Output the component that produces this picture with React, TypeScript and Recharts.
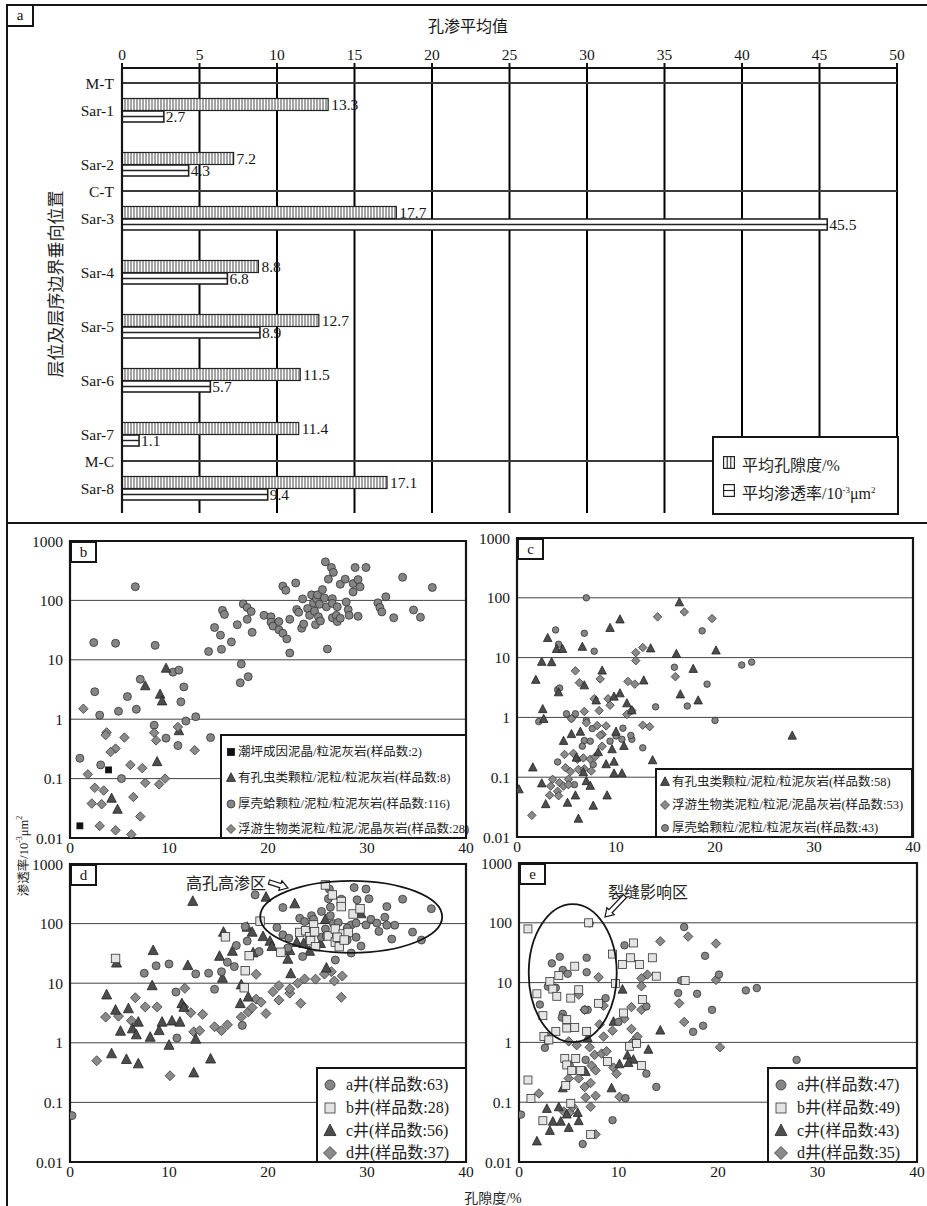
import React from "react";
import {
  Bar,
  BarChart,
  CartesianGrid,
  LabelList,
  ReferenceArea,
  ReferenceDot,
  ReferenceLine,
  Scatter,
  ScatterChart,
  XAxis,
  YAxis,
} from "recharts";

// ---------- panel a: mean porosity / permeability per layer ----------
const layers = ["Sar-1", "Sar-2", "Sar-3", "Sar-4", "Sar-5", "Sar-6", "Sar-7", "Sar-8"];
const meanPorosity = [13.3, 7.2, 17.7, 8.8, 12.7, 11.5, 11.4, 17.1];
const meanPermeability = [2.7, 4.3, 45.5, 6.8, 8.9, 5.7, 1.1, 9.4];
const boundaries = ["M-T", "C-T", "M-C"];
// vertical order of rows ("" = empty spacing row)
const rowOrder = ["M-T", "Sar-1", "", "Sar-2", "C-T", "Sar-3", "", "Sar-4", "", "Sar-5", "", "Sar-6", "", "Sar-7", "M-C", "Sar-8"];
const topTicks = [0, 5, 10, 15, 20, 25, 30, 35, 40, 45, 50];

// ---------- panel b ----------
const bTidal = [[3.9, 0.14], [1.0, 0.016]];
const bForam = [[9.7, 7.1], [7.6, 3.6], [9.1, 2.6], [9.3, 2.0], [11.0, 0.63], [8.8, 0.19], [4.2, 0.046], [4.8, 0.03]];
const bRudist = [
  [6.6, 170], [2.4, 19.5], [4.6, 19], [8.6, 17.5], [14.0, 13.8], [14.6, 35], [15.2, 26], [15.3, 15], [15.4, 68], [15.6, 58],
  [16.3, 20], [16.9, 39], [17.2, 4.1], [17.3, 8.5], [17.5, 87], [17.9, 76], [18.0, 5.2], [17.9, 48], [18.3, 65], [18.4, 29],
  [19.6, 56], [20.3, 53], [20.3, 43], [20.5, 37], [21.1, 44], [21.1, 32], [21.5, 28], [21.5, 174], [21.8, 148], [21.9, 22.5],
  [22.2, 48], [22.2, 13], [22.8, 197], [22.9, 70], [23.1, 63], [23.4, 34], [23.5, 106], [23.6, 40], [24.0, 73], [24.2, 56],
  [24.4, 124], [24.6, 91], [24.7, 66], [24.8, 39], [24.9, 107], [25.0, 124], [25.1, 53], [25.2, 86], [25.3, 45], [25.5, 152],
  [25.7, 110], [25.8, 445], [25.9, 78], [26.0, 15.2], [26.1, 228], [26.4, 358], [26.6, 296], [26.5, 107], [26.5, 89], [26.5, 51],
  [26.9, 56], [27.0, 44], [27.0, 78], [27.3, 187], [27.3, 50], [27.8, 228], [27.9, 94], [28.1, 70], [28.2, 56], [28.6, 192],
  [28.6, 139], [28.8, 358], [29.1, 224], [29.3, 169], [29.1, 54], [29.9, 358], [31.1, 91], [31.3, 76], [31.5, 64], [31.9, 115],
  [32.7, 51], [33.6, 245], [34.7, 69], [35.4, 52], [36.6, 165],
  [2.5, 2.9], [3.0, 1.17], [4.9, 1.36], [5.8, 2.4], [6.7, 1.47], [7.1, 4.7], [10.4, 6.2], [11.0, 6.7], [11.2, 1.96], [11.5, 3.5],
  [11.7, 0.93], [12.7, 1.1], [8.5, 0.79], [9.7, 0.48], [10.9, 0.36], [14.2, 0.49], [1.0, 0.22], [3.1, 0.17], [5.2, 0.1],
];
const bPlankton = [
  [1.35, 1.5], [3.7, 0.6], [3.6, 0.54], [5.5, 0.49], [4.6, 0.32], [4.1, 0.28], [6.1, 0.17], [7.3, 0.15], [1.8, 0.118], [8.5, 0.59],
  [8.7, 0.44], [10.9, 0.74], [12.6, 0.3], [9.6, 0.1], [9.0, 0.08], [7.6, 0.085], [2.5, 0.07], [3.4, 0.063], [6.4, 0.049], [2.2, 0.038],
  [3.2, 0.037], [7.1, 0.023], [3.0, 0.016], [4.6, 0.0135], [6.2, 0.0115],
];

// ---------- panel c ----------
const cForam = [
  [3.1, 21], [1.9, 4.2], [2.5, 8.4], [3.5, 8.3], [4.0, 13.8], [4.6, 13.8], [4.2, 2.6], [2.6, 1.36], [2.7, 0.93], [6.6, 15],
  [6.8, 3.4], [9.4, 31], [10.4, 43], [8.6, 6], [8.0, 1.9], [9.8, 2.2], [10.4, 2.5], [12.8, 4.1], [13.5, 14.1], [11.1, 1.7],
  [11.6, 1.3], [16.4, 83], [16.1, 11.4], [16.5, 2.4], [17.8, 6.4], [18.3, 1.9], [20.1, 13], [27.8, 0.49], [6.4, 0.57], [5.5, 0.52],
  [4.7, 0.4], [1.6, 0.144], [2.5, 0.078], [0.2, 0.062], [2.9, 0.035], [5.1, 0.037], [5.9, 0.049], [7.0, 0.085], [7.4, 0.071], [7.7, 0.033],
  [9.1, 0.049], [6.2, 0.02], [9.8, 0.114], [10.6, 0.115], [9.0, 0.163], [9.8, 0.18], [13.7, 0.19], [10.8, 0.33], [10.0, 0.57], [9.6, 0.29],
  [8.2, 0.26], [6.7, 0.12], [6.0, 0.21],
];
const cPlankton = [
  [14.2, 48], [16.9, 58], [19.7, 45], [12.7, 14.7], [12.0, 12.1], [12.0, 8.9], [5.9, 6], [6.3, 3.8], [8.4, 4.4], [11.2, 4.0],
  [11.9, 3.6], [16.0, 4.8], [7.8, 2.05], [9.2, 2.05], [9.4, 1.6], [8.3, 1.3], [6.8, 1.26], [11.1, 1.12], [11.6, 1.3], [5.5, 0.95],
  [7.0, 0.81], [12.7, 0.74], [13.4, 0.7], [9.0, 0.72], [8.1, 0.73], [8.6, 0.52], [4.8, 0.24], [5.7, 0.25], [6.1, 0.2], [6.7, 0.21],
  [7.4, 0.2], [7.9, 0.22], [4.9, 0.144], [5.4, 0.124], [6.2, 0.135], [6.8, 0.138], [7.5, 0.127], [3.6, 0.092], [4.3, 0.081], [5.2, 0.092],
  [3.4, 0.071], [4.1, 0.058], [3.3, 0.05], [4.2, 0.049], [4.7, 0.071], [5.2, 0.075], [1.5, 0.023], [8.6, 0.33], [8.4, 0.5],
];
const cRudist = [
  [7.0, 100], [3.9, 29], [6.8, 25.5], [4.2, 16.7], [7.8, 12.8], [18.7, 28], [15.9, 6.9], [19.2, 3.6], [22.7, 7.5], [23.7, 8.4],
  [17.2, 1.55], [14.0, 1.5], [20.0, 0.89], [4.1, 2.9], [4.3, 3.1], [2.2, 0.85], [5.0, 1.15], [5.9, 1.15], [7.0, 0.89], [7.6, 0.65],
  [10.7, 0.66], [10.6, 0.43], [11.6, 0.43], [11.5, 0.5], [12.7, 0.31], [9.4, 0.4], [10.0, 0.49], [6.8, 0.41], [7.4, 0.4], [6.6, 0.33],
  [4.1, 0.18], [7.7, 0.163], [5.8, 0.075], [5.5, 0.96],
];

// ---------- panel d ----------
const dWellA = [
  [0.2, 0.06], [7.5, 14.7], [8.7, 19.6], [10.0, 21], [10.7, 7.1], [10.8, 1.2], [12.7, 14.3], [14.0, 14.7], [14.6, 7.9], [15.3, 15.6],
  [15.9, 22.5], [16.6, 19], [16.8, 43], [17.4, 1.96], [17.7, 89], [17.9, 51], [18.7, 303], [19.1, 34], [20.9, 86], [21.5, 65],
  [21.5, 186], [22.0, 39], [23.2, 123], [23.5, 28], [24.4, 136], [24.4, 74], [25.4, 160], [25.4, 59], [25.8, 81], [26.1, 261],
  [26.2, 380], [26.3, 189], [26.3, 136], [26.6, 100], [26.8, 24.5], [27.1, 104], [27.4, 257], [28.0, 53], [28.4, 32], [28.4, 95],
  [28.7, 402], [28.9, 102], [29.0, 251], [28.9, 59], [29.4, 42], [29.9, 380], [29.9, 95], [30.2, 261], [30.4, 118], [31.0, 102],
  [31.2, 74], [31.8, 128], [32.0, 94], [32.0, 193], [32.5, 55], [32.8, 94], [33.6, 257], [34.6, 72], [35.5, 53], [36.5, 178],
  [24.6, 118], [25.9, 62], [28.0, 84], [23.7, 108], [22.1, 57],
];
const dWellB = [
  [4.6, 26], [15.7, 60], [17.7, 16.2], [17.6, 8.4], [18.1, 29], [19.2, 110], [21.3, 33], [25.8, 445], [26.5, 303], [27.4, 235],
  [27.4, 193], [28.6, 145], [29.3, 177], [23.2, 71], [23.8, 76], [24.2, 60], [24.3, 52], [24.8, 41], [24.6, 95], [26.1, 62],
  [26.8, 81], [26.8, 49], [27.2, 41], [27.6, 67], [28.1, 71], [27.0, 59], [27.7, 53], [24.7, 73],
];
const dWellC = [
  [12.4, 234], [3.7, 6.3], [4.6, 3.5], [4.7, 21.6], [5.9, 3.7], [5.1, 1.55], [6.3, 1.7], [6.9, 2.2], [6.7, 1.35], [4.2, 0.65],
  [5.7, 0.52], [6.9, 0.44], [8.1, 1.23], [9.0, 1.59], [9.3, 2.2], [8.4, 35], [8.3, 9], [10.0, 0.9], [10.3, 2.3], [11.1, 2.2],
  [11.3, 4.5], [11.9, 19.6], [11.5, 3.9], [12.7, 1.14], [12.5, 0.31], [14.2, 0.53], [15.1, 28], [15.5, 71], [15.4, 12], [16.4, 34],
  [17.2, 4.5], [17.3, 9.3], [18.0, 5.8], [17.9, 86], [18.4, 71], [18.5, 32], [19.8, 275], [19.5, 60], [20.2, 50], [20.4, 41],
  [22.0, 25], [22.2, 35], [22.3, 14.3], [22.7, 213], [22.9, 48], [23.6, 46], [24.2, 34], [25.3, 46], [25.8, 116], [29.4, 145],
  [25.9, 17.8],
];
const dWellD = [
  [2.7, 0.5], [3.6, 2.7], [4.9, 2.8], [6.2, 2.35], [6.6, 5.7], [7.6, 4.0], [8.8, 4.0], [10.1, 0.28], [11.6, 8.2], [11.5, 4.0],
  [12.2, 3.2], [12.5, 1.53], [13.1, 1.6], [13.4, 3.0], [14.6, 1.86], [15.3, 1.6], [15.9, 2.0], [17.3, 2.7], [18.0, 3.3], [18.4, 3.9],
  [18.8, 5.4], [19.3, 4.8], [18.8, 14.1], [19.8, 3.1], [20.5, 7.2], [21.1, 9.1], [21.1, 5.2], [22.2, 6.8], [22.2, 8], [23.0, 10],
  [23.3, 4.6], [23.7, 11.8], [24.8, 11.7], [25.7, 14.2], [26.4, 15.6], [26.7, 10.9], [27.5, 13.2], [27.4, 5.8],
];

// ---------- panel e ----------
const eWellA = [
  [0.2, 0.062], [7.1, 98], [3.3, 21], [4.1, 27], [4.4, 16.3], [4.9, 14], [6.8, 26], [6.8, 14.9], [2.9, 8.6], [3.7, 8.2],
  [2.1, 4.3], [4.4, 3.0], [4.3, 2.6], [6.9, 3.5], [6.6, 3.5], [8.7, 5.5], [2.6, 0.81], [2.8, 1.26], [2.9, 1.07], [6.7, 0.51],
  [5.1, 0.41], [10.6, 42], [10.0, 2.2], [12.8, 4.0], [12.8, 0.3], [13.8, 0.18], [10.7, 0.117], [9.4, 0.05], [6.4, 0.02], [16.6, 85],
  [18.7, 28], [16.3, 10.8], [16.0, 6.7], [17.9, 6.5], [19.4, 3.5], [17.5, 1.5], [18.5, 1.9], [20.1, 13.6], [22.8, 7.4], [23.9, 8.1],
  [27.9, 0.51],
];
const eWellB = [
  [0.9, 79], [7.0, 100], [9.4, 30], [11.5, 46], [10.4, 20], [11.2, 26], [12.1, 20], [13.4, 26], [13.8, 12.8], [16.7, 10.8],
  [9.7, 9.7], [3.1, 10.4], [4.0, 13.1], [5.6, 18.8], [6.0, 7.6], [3.4, 7.8], [3.8, 5.9], [1.8, 6.5], [5.2, 5.5], [2.4, 2.8],
  [4.8, 2.4], [4.8, 1.74], [5.6, 1.78], [3.7, 1.53], [6.8, 1.53], [8.0, 4.5], [2.5, 1.26], [3.0, 1.1], [10.5, 3.1], [12.4, 5.2],
  [11.1, 0.86], [11.8, 0.96], [12.3, 0.41], [4.6, 0.54], [5.7, 0.54], [4.8, 0.42], [5.3, 0.34], [6.2, 0.34], [8.9, 0.48], [0.9, 0.235],
  [4.7, 0.19], [1.2, 0.115], [5.2, 0.096], [2.4, 0.049], [7.2, 0.029],
];
const eWellC = [
  [10.4, 7.6], [9.5, 2.2], [14.2, 1.57], [13.0, 0.75], [6.9, 1.18], [6.7, 0.32], [10.9, 0.6], [10.1, 0.43], [11.5, 0.51], [4.4, 0.17],
  [9.3, 0.17], [2.8, 0.077], [4.0, 0.082], [4.8, 0.062], [3.4, 0.047], [4.2, 0.047], [5.9, 0.066], [6.0, 0.048], [5.0, 0.037], [3.1, 0.033],
  [1.8, 0.022], [11.0, 0.45],
];
const eWellD = [
  [14.2, 49], [17.0, 59], [19.8, 45], [19.8, 11.1], [12.9, 13.6], [12.3, 11.8], [12.3, 8.7], [8.0, 12.3], [6.0, 6.3], [8.5, 4.1],
  [6.6, 3.5], [16.1, 4.5], [16.6, 2.2], [20.2, 0.83], [11.3, 3.9], [12.3, 3.5], [10.6, 2.5], [9.4, 1.57], [8.1, 2.0], [8.5, 1.25],
  [11.3, 1.68], [11.9, 1.25], [11.5, 1.04], [5.0, 1.04], [5.8, 0.9], [7.1, 0.83], [7.6, 0.62], [8.3, 0.65], [8.8, 0.71], [7.3, 0.41],
  [7.7, 0.34], [5.0, 0.25], [6.0, 0.25], [6.6, 0.18], [7.2, 0.21], [6.7, 0.12], [7.7, 0.128], [9.5, 0.38], [9.8, 0.3], [10.1, 0.123],
  [2.0, 0.14], [4.5, 0.07], [5.1, 0.067], [5.4, 0.084], [7.2, 0.084], [7.7, 0.029],
];

const xTicks = [0, 10, 20, 30, 40];
const logTicks = [0.01, 0.1, 1, 10, 100, 1000];

const bLegendText = [
  "潮坪成因泥晶/粒泥灰岩(样品数:2)",
  "有孔虫类颗粒/泥粒/粒泥灰岩(样品数:8)",
  "厚壳蛤颗粒/泥粒/粒泥灰岩(样品数:116)",
  "浮游生物类泥粒/粒泥/泥晶灰岩(样品数:28)",
];
const cLegendText = [
  "有孔虫类颗粒/泥粒/粒泥灰岩(样品数:58)",
  "浮游生物类泥粒/粒泥/泥晶灰岩(样品数:53)",
  "厚壳蛤颗粒/泥粒/粒泥灰岩(样品数:43)",
];
const dLegendText = ["a井(样品数:63)", "b井(样品数:28)", "c井(样品数:56)", "d井(样品数:37)"];
const eLegendText = ["a井(样品数:47)", "b井(样品数:49)", "c井(样品数:43)", "d井(样品数:35)"];

const SERIF = '"Liberation Serif", "DejaVu Serif", "Noto Sans CJK SC", serif';
const INK = "#151515";

const toPts = (arr: number[][]) => arr.map(([x, y]) => ({ x, y }));

// ---------- marker shapes ----------
type Kind = "circle" | "square" | "triangle" | "diamond";
const STYLE: Record<string, { fill: string; stroke: string }> = {
  circle: { fill: "#858585", stroke: "#333" },
  square: { fill: "#e4e4e4", stroke: "#333" },
  triangle: { fill: "#4d4d4d", stroke: "#222" },
  diamond: { fill: "#8a8a8a", stroke: "#3a3a3a" },
  black: { fill: "#111", stroke: "#111" },
};

function symbol(kind: Kind, cx: number, cy: number, s: number, fill: string, stroke: string) {
  const sw = 0.8;
  if (kind === "circle") return <circle cx={cx} cy={cy} r={s / 2} fill={fill} stroke={stroke} strokeWidth={sw} />;
  if (kind === "square")
    return <rect x={cx - s / 2} y={cy - s / 2} width={s} height={s} fill={fill} stroke={stroke} strokeWidth={sw} />;
  if (kind === "triangle")
    return (
      <polygon
        points={`${cx},${cy - s * 0.58} ${cx + s / 2},${cy + s * 0.38} ${cx - s / 2},${cy + s * 0.38}`}
        fill={fill}
        stroke={stroke}
        strokeWidth={sw}
      />
    );
  return (
    <polygon
      points={`${cx},${cy - s / 2} ${cx + s / 2},${cy} ${cx},${cy + s / 2} ${cx - s / 2},${cy}`}
      fill={fill}
      stroke={stroke}
      strokeWidth={sw}
    />
  );
}

const marker = (kind: Kind, s: number, style = kind as string) => (p: any) => {
  if (p.cx == null || p.cy == null) return <g />;
  const st = STYLE[style];
  return symbol(kind, p.cx, p.cy, s, st.fill, st.stroke);
};

// ---------- bar shapes for panel a ----------
const PoroBar = (p: any) => {
  const { x, y, width, height } = p;
  if (!width || width <= 0) return <g />;
  const lines = [];
  for (let lx = x + 3; lx < x + width - 0.5; lx += 3) {
    lines.push(<line key={lx} x1={lx} x2={lx} y1={y} y2={y + height} stroke="#333" strokeWidth={0.9} />);
  }
  return (
    <g>
      <rect x={x} y={y} width={width} height={height} fill="#fff" />
      {lines}
      <rect x={x} y={y} width={width} height={height} fill="none" stroke="#222" strokeWidth={1.2} />
    </g>
  );
};

const PermBar = (p: any) => {
  const { x, y, width, height } = p;
  if (!width || width <= 0) return <g />;
  return (
    <g>
      <rect x={x} y={y + 0.5} width={width} height={height - 1} fill="#fff" stroke="#222" strokeWidth={1.6} />
      <line x1={x} x2={x + width} y1={y + height / 2} y2={y + height / 2} stroke="#222" strokeWidth={1.4} />
    </g>
  );
};

// ---------- overlay helpers ----------
const Line = ({ x, y, w, h }: { x: number; y: number; w: number; h: number }) => (
  <div style={{ position: "absolute", left: x, top: y, width: w, height: h, background: INK }} />
);

const TagBox = ({ x, y, w, h, text }: { x: number; y: number; w: number; h: number; text: string }) => (
  <div
    style={{
      position: "absolute",
      left: x,
      top: y,
      width: w,
      height: h,
      boxSizing: "border-box",
      border: `2px solid ${INK}`,
      background: "#fff",
      fontFamily: SERIF,
      fontSize: 15,
      lineHeight: `${h - 4}px`,
      textAlign: "center",
      color: INK,
    }}
  >
    {text}
  </div>
);

type LegendItem = { kind: Kind; style?: string; size: number; label: string };

function LegendBox(props: {
  x: number;
  y: number;
  w: number;
  h: number;
  items: LegendItem[];
  rows: number[];
  iconX: number;
  textX: number;
  fontSize: number;
}) {
  const { x, y, w, h, items, rows, iconX, textX, fontSize } = props;
  return (
    <div
      style={{
        position: "absolute",
        left: x,
        top: y,
        width: w,
        height: h,
        boxSizing: "border-box",
        border: `2px solid ${INK}`,
        background: "#fff",
      }}
    >
      {items.map((it, i) => {
        const st = STYLE[it.style || it.kind];
        return (
          <React.Fragment key={i}>
            <svg style={{ position: "absolute", left: iconX - 8, top: rows[i] - 8 }} width={16} height={16}>
              {symbol(it.kind, 8, 8, it.size, st.fill, st.stroke)}
            </svg>
            <div
              style={{
                position: "absolute",
                left: textX,
                top: rows[i] - fontSize * 0.65,
                fontSize,
                lineHeight: `${fontSize * 1.3}px`,
                whiteSpace: "nowrap",
                fontFamily: SERIF,
                color: "#222",
              }}
            >
              {it.label}
            </div>
          </React.Fragment>
        );
      })}
    </div>
  );
}

// ---------- scatter panel ----------
function ScatterPanel(props: { left: number; top: number; w: number; h: number; children: React.ReactNode }) {
  const { left, top, w, h, children } = props;
  const yw = 70;
  return (
    <div style={{ position: "absolute", left: left - yw, top: top - 10 }}>
      <ScatterChart width={yw + w + 14} height={h + 10 + 28} margin={{ top: 10, right: 14, bottom: 0, left: 0 }}>
        <CartesianGrid horizontal vertical={false} stroke="#444" strokeWidth={1} />
        <XAxis
          type="number"
          dataKey="x"
          domain={[0, 40]}
          ticks={xTicks}
          height={28}
          tickSize={0}
          tickMargin={4}
          tickLine={false}
          axisLine={false}
          allowDataOverflow
          tick={{ fontSize: 15.5, fill: INK, fontFamily: SERIF }}
        />
        <YAxis
          type="number"
          dataKey="y"
          scale="log"
          domain={[0.01, 1000]}
          ticks={logTicks}
          width={yw}
          tickSize={0}
          tickMargin={7}
          tickLine={false}
          axisLine={false}
          allowDataOverflow
          tickFormatter={(v: number) => String(v)}
          tick={{ fontSize: 15.5, fill: INK, fontFamily: SERIF }}
        />
        {children}
        <ReferenceArea x1={0} x2={40} y1={0.01} y2={1000} fill="none" stroke={INK} strokeWidth={2.2} />
      </ScatterChart>
    </div>
  );
}

const ellipseShape = (rx: number, ry: number) => (p: any) => (
  <ellipse cx={p.cx} cy={p.cy} rx={rx} ry={ry} fill="none" stroke={INK} strokeWidth={1.8} />
);

function blockArrow(x1: number, y1: number, x2: number, y2: number) {
  const dx = x2 - x1;
  const dy = y2 - y1;
  const len = Math.hypot(dx, dy);
  const ux = dx / len;
  const uy = dy / len;
  const nx = -uy;
  const ny = ux;
  const head = 8;
  const sw = 2.2;
  const hw = 5;
  const bx = x2 - ux * head;
  const by = y2 - uy * head;
  const pts = [
    [x1 + nx * sw, y1 + ny * sw],
    [bx + nx * sw, by + ny * sw],
    [bx + nx * hw, by + ny * hw],
    [x2, y2],
    [bx - nx * hw, by - ny * hw],
    [bx - nx * sw, by - ny * sw],
    [x1 - nx * sw, y1 - ny * sw],
  ];
  return pts.map((p) => p.join(",")).join(" ");
}

export default function App() {
  const rows = rowOrder.map((name, i) => {
    const k = layers.indexOf(name);
    return {
      key: `r${i}`,
      name,
      poro: k >= 0 ? meanPorosity[k] : null,
      perm: k >= 0 ? meanPermeability[k] : null,
    };
  });
  const labelOf: Record<string, string> = {};
  rows.forEach((r) => (labelOf[r.key] = r.name));
  const keyOf = (name: string) => rows.find((r) => r.name === name)!.key;

  return (
    <div style={{ position: "relative", width: 927, height: 1206, background: "#fff", overflow: "hidden", fontFamily: SERIF }}>
      <style>{`body{margin:0;}`}</style>

      {/* panel a */}
      <div style={{ position: "absolute", left: 0, top: 0 }}>
        <BarChart
          width={927}
          height={520}
          data={rows}
          layout="vertical"
          margin={{ top: 38, right: 30, bottom: 7, left: 0 }}
          barGap={0}
          barCategoryGap={0}
        >
          <CartesianGrid horizontal={false} vertical stroke="#000" strokeWidth={2} />
          <XAxis
            type="number"
            orientation="top"
            domain={[0, 50]}
            ticks={topTicks}
            height={30}
            tickSize={5}
            tickMargin={3}
            axisLine={{ stroke: INK, strokeWidth: 2.2 }}
            tickLine={{ stroke: INK, strokeWidth: 2 }}
            tick={{ fontSize: 15.5, fill: INK, fontFamily: SERIF }}
          />
          <XAxis
            xAxisId="bottom"
            type="number"
            orientation="bottom"
            domain={[0, 50]}
            height={0}
            tick={false}
            tickLine={false}
            axisLine={{ stroke: INK, strokeWidth: 2.2 }}
          />
          <YAxis
            type="category"
            dataKey="key"
            width={122}
            interval={0}
            padding={{ top: 1.5, bottom: 11.5 }}
            tickSize={0}
            tickMargin={8}
            tickLine={false}
            axisLine={{ stroke: INK, strokeWidth: 2.2 }}
            tickFormatter={(k: string) => labelOf[k]}
            tick={{ fontSize: 15.5, fill: INK, fontFamily: SERIF }}
          />
          {boundaries.map((b) => (
            <ReferenceLine key={b} y={keyOf(b)} stroke="#3a3a3a" strokeWidth={2} />
          ))}
          <Bar dataKey="poro" barSize={12} shape={PoroBar} isAnimationActive={false}>
            <LabelList dataKey="poro" position="right" offset={3} style={{ fontSize: 15.5, fill: INK, fontFamily: SERIF }} />
          </Bar>
          <Bar dataKey="perm" barSize={12} shape={PermBar} isAnimationActive={false}>
            <LabelList dataKey="perm" position="right" offset={2} style={{ fontSize: 15.5, fill: INK, fontFamily: SERIF }} />
          </Bar>
        </BarChart>
      </div>

      {/* frame */}
      <Line x={6} y={4} w={921} h={2} />
      <Line x={6} y={4} w={2} h={1202} />
      <Line x={6} y={522} w={921} h={2} />
      <TagBox x={6} y={4} w={28} h={23} text="a" />

      <div
        style={{
          position: "absolute",
          left: 468,
          top: 25,
          transform: "translate(-50%,-50%)",
          fontSize: 16,
          whiteSpace: "nowrap",
          color: INK,
        }}
      >
        孔渗平均值
      </div>
      <div
        style={{
          position: "absolute",
          left: 54,
          top: 284,
          transform: "translate(-50%,-50%) rotate(-90deg)",
          fontSize: 17,
          whiteSpace: "nowrap",
          color: "#222",
        }}
      >
        层位及层序边界垂向位置
      </div>

      {/* panel a legend */}
      <div
        style={{
          position: "absolute",
          left: 712,
          top: 436,
          width: 187,
          height: 79,
          boxSizing: "border-box",
          border: `2px solid ${INK}`,
          background: "#fff",
        }}
      >
        <svg style={{ position: "absolute", left: 9, top: 18 }} width={12} height={13}>
          <rect x={0.6} y={0.6} width={10.8} height={11.8} fill="#fff" stroke="#222" strokeWidth={1.2} />
          <line x1={4.2} x2={4.2} y1={0} y2={13} stroke="#222" strokeWidth={1.1} />
          <line x1={7.8} x2={7.8} y1={0} y2={13} stroke="#222" strokeWidth={1.1} />
        </svg>
        <div style={{ position: "absolute", left: 28, top: 14, fontSize: 16, whiteSpace: "nowrap", color: "#222" }}>
          平均孔隙度/%
        </div>
        <svg style={{ position: "absolute", left: 9, top: 46 }} width={12} height={13}>
          <rect x={0.6} y={0.6} width={10.8} height={11.8} fill="#fff" stroke="#222" strokeWidth={1.2} />
          <line x1={0} x2={12} y1={6.5} y2={6.5} stroke="#222" strokeWidth={1.1} />
        </svg>
        <div style={{ position: "absolute", left: 28, top: 42, fontSize: 16, whiteSpace: "nowrap", color: "#222" }}>
          平均渗透率/10<sup style={{ fontSize: 9 }}>-3</sup>μm<sup style={{ fontSize: 9 }}>2</sup>
        </div>
      </div>

      {/* panel b */}
      <ScatterPanel left={70} top={541} w={396} h={297}>
        <Scatter data={toPts(bRudist)} shape={marker("circle", 8)} isAnimationActive={false} />
        <Scatter data={toPts(bForam)} shape={marker("triangle", 9.5)} isAnimationActive={false} />
        <Scatter data={toPts(bPlankton)} shape={marker("diamond", 9.5)} isAnimationActive={false} />
        <Scatter data={toPts(bTidal)} shape={marker("square", 6, "black")} isAnimationActive={false} />
      </ScatterPanel>
      <TagBox x={70} y={541} w={27} h={22} text="b" />
      <LegendBox
        x={220}
        y={734}
        w={247}
        h={105}
        rows={[16, 42, 68, 93]}
        iconX={9}
        textX={16}
        fontSize={12.5}
        items={[
          { kind: "square", style: "black", size: 7, label: bLegendText[0] },
          { kind: "triangle", size: 9, label: bLegendText[1] },
          { kind: "circle", size: 8, label: bLegendText[2] },
          { kind: "diamond", size: 9, label: bLegendText[3] },
        ]}
      />

      {/* panel c */}
      <ScatterPanel left={517} top={538} w={396} h={299}>
        <Scatter data={toPts(cRudist)} shape={marker("circle", 6.5)} isAnimationActive={false} />
        <Scatter data={toPts(cPlankton)} shape={marker("diamond", 8.5)} isAnimationActive={false} />
        <Scatter data={toPts(cForam)} shape={marker("triangle", 8.5)} isAnimationActive={false} />
      </ScatterPanel>
      <TagBox x={517} y={538} w={27} h={22} text="c" />
      <LegendBox
        x={655}
        y={768}
        w={258}
        h={70}
        rows={[12, 35, 58]}
        iconX={8}
        textX={15}
        fontSize={12.5}
        items={[
          { kind: "triangle", size: 9, label: cLegendText[0] },
          { kind: "diamond", size: 9, label: cLegendText[1] },
          { kind: "circle", size: 7, label: cLegendText[2] },
        ]}
      />

      {/* panel d */}
      <ScatterPanel left={70} top={864} w={396} h={298}>
        <Scatter data={toPts(dWellD)} shape={marker("diamond", 10)} isAnimationActive={false} />
        <Scatter data={toPts(dWellC)} shape={marker("triangle", 10)} isAnimationActive={false} />
        <Scatter data={toPts(dWellA)} shape={marker("circle", 8)} isAnimationActive={false} />
        <Scatter data={toPts(dWellB)} shape={marker("square", 8.5)} isAnimationActive={false} />
        <ReferenceDot x={28.4} y={130} r={1} shape={ellipseShape(91, 36)} />
      </ScatterPanel>
      <TagBox x={70} y={864} w={27} h={22} text="d" />
      <LegendBox
        x={316}
        y={1067}
        w={151}
        h={96}
        rows={[16, 39, 62, 84]}
        iconX={12}
        textX={28}
        fontSize={16}
        items={[
          { kind: "circle", size: 10, label: dLegendText[0] },
          { kind: "square", size: 10, label: dLegendText[1] },
          { kind: "triangle", size: 12, label: dLegendText[2] },
          { kind: "diamond", size: 13, label: dLegendText[3] },
        ]}
      />

      {/* panel e */}
      <ScatterPanel left={519} top={863} w={398} h={299}>
        <Scatter data={toPts(eWellD)} shape={marker("diamond", 9.5)} isAnimationActive={false} />
        <Scatter data={toPts(eWellC)} shape={marker("triangle", 9)} isAnimationActive={false} />
        <Scatter data={toPts(eWellA)} shape={marker("circle", 7.5)} isAnimationActive={false} />
        <Scatter data={toPts(eWellB)} shape={marker("square", 8)} isAnimationActive={false} />
        <ReferenceDot x={5.4} y={14.4} r={1} shape={ellipseShape(44, 69)} />
      </ScatterPanel>
      <TagBox x={519} y={863} w={27} h={22} text="e" />
      <LegendBox
        x={767}
        y={1067}
        w={151}
        h={96}
        rows={[16, 39, 62, 84]}
        iconX={12}
        textX={28}
        fontSize={16}
        items={[
          { kind: "circle", size: 10, label: eLegendText[0] },
          { kind: "square", size: 10, label: eLegendText[1] },
          { kind: "triangle", size: 12, label: eLegendText[2] },
          { kind: "diamond", size: 13, label: eLegendText[3] },
        ]}
      />

      {/* annotations */}
      <div style={{ position: "absolute", left: 186, top: 870, fontSize: 16, whiteSpace: "nowrap", color: "#222" }}>
        高孔高渗区
      </div>
      <div style={{ position: "absolute", left: 608, top: 879, fontSize: 16, whiteSpace: "nowrap", color: "#222" }}>
        裂缝影响区
      </div>
      <svg style={{ position: "absolute", left: 0, top: 0, pointerEvents: "none" }} width={927} height={1206}>
        <polygon points={blockArrow(269, 882, 288, 888)} fill="#fff" stroke={INK} strokeWidth={1.2} />
        <polygon points={blockArrow(625, 896, 605, 917)} fill="#fff" stroke={INK} strokeWidth={1.2} />
      </svg>

      {/* shared axis titles */}
      <div
        style={{
          position: "absolute",
          left: 22,
          top: 856,
          transform: "translate(-50%,-50%) rotate(-90deg)",
          fontSize: 12.5,
          whiteSpace: "nowrap",
          color: "#222",
        }}
      >
        渗透率/10<sup style={{ fontSize: 8 }}>-3</sup>μm<sup style={{ fontSize: 8 }}>2</sup>
      </div>
      <div
        style={{
          position: "absolute",
          left: 493,
          top: 1197,
          transform: "translate(-50%,-50%)",
          fontSize: 14,
          whiteSpace: "nowrap",
          color: "#222",
        }}
      >
        孔隙度/%
      </div>
    </div>
  );
}
